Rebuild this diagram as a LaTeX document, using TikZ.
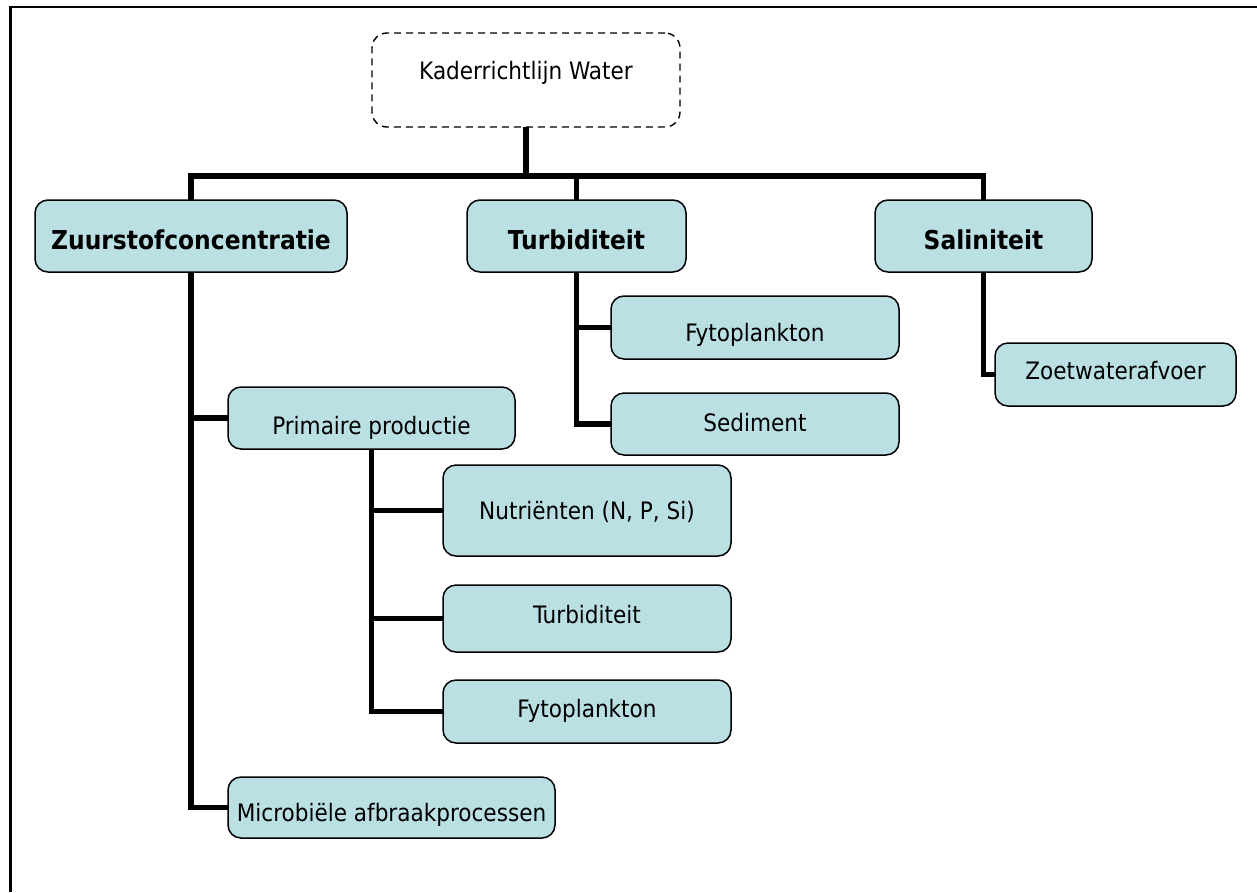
\documentclass[tikz,border=0pt]{standalone}
\usepackage{fontspec}
\setmainfont{DejaVu Sans Condensed}
\begin{document}
\begin{tikzpicture}[x=1pt,y=1pt,
  every node/.style={inner sep=0pt, outer sep=0pt},
  box/.style={draw=black, line width=1.5pt, rounded corners=13pt,
              fill={rgb,255:red,186;green,224;blue,228}},
  topbox/.style={draw=black, line width=1.4pt, rounded corners=15pt,
                 dash pattern=on 7pt off 5pt, fill=white},
  lbl/.style={font=\fontsize{24}{28}\selectfont},
  hlbl/.style={font=\fontsize{26}{30}\selectfont\bfseries},
  link/.style={line width=5.5pt, line join=miter},
  frame/.style={line width=2.4pt}]
\useasboundingbox (0,0) rectangle (1257,-892);

% outer frame (top and left edges)
\draw[frame] (10.5,-892) -- (10.5,-7) -- (1257,-7);

% top node
\node[topbox, minimum width=308, minimum height=94] (kad) at (526,-80) {};
\node[lbl] (kadt) at (526,-72.5) {Kaderrichtlijn Water};

% main themes
\node[box, minimum width=312, minimum height=72] (zuur) at (191,-236) {};
\node[hlbl] (zuurt) at (191,-240) {Zuurstofconcentratie};
\node[box, minimum width=219, minimum height=72] (turb) at (576.5,-236) {};
\node[hlbl] (turbt) at (576.5,-240) {Turbiditeit};
\node[box, minimum width=217, minimum height=72] (sal) at (983.5,-236) {};
\node[hlbl] (salt) at (983.5,-240) {Saliniteit};

% factors under Turbiditeit
\node[box, minimum width=288, minimum height=63] (fyto) at (755,-327.5) {};
\node[lbl] (fytot) at (755,-335) {Fytoplankton};
\node[box, minimum width=288, minimum height=62] (sed) at (755,-424) {};
\node[lbl] (sedt) at (755,-423) {Sediment};

% factor under Saliniteit
\node[box, minimum width=241, minimum height=63] (zoet) at (1115.5,-374.5) {};
\node[lbl] (zoett) at (1115.5,-371) {Zoetwaterafvoer};

% factors under Zuurstofconcentratie
\node[box, minimum width=287, minimum height=62] (prim) at (371.5,-418) {};
\node[lbl] (primt) at (371.5,-428) {Primaire productie};
\node[box, minimum width=327, minimum height=61] (micr) at (391.5,-807.5) {};
\node[lbl] (micrt) at (391.5,-815) {Microbiële afbraakprocessen};

% factors under Primaire productie
\node[box, minimum width=288, minimum height=91] (nutr) at (587,-510.5) {};
\node[lbl] (nutrt) at (587,-512) {Nutriënten (N, P, Si)};
\node[box, minimum width=288, minimum height=67] (turbb) at (587,-618.5) {};
\node[lbl] (turbbt) at (587,-614.5) {Turbiditeit};
\node[box, minimum width=288, minimum height=63] (fytob) at (587,-711.5) {};
\node[lbl] (fytobt) at (587,-710.5) {Fytoplankton};

% connectors
\coordinate (bus) at (526,-176);
\draw[link] (kad.south) -- (bus);
\draw[link] (zuur.north) |- (bus) -| (sal.north);
\draw[link] (turb.north) |- (bus);

\draw[link] (turb.south) |- (fyto.west);
\draw[link] (turb.south) |- (sed.west);

\draw[link] (sal.south) |- (zoet.west);

\draw[link] (zuur.south) |- (prim.west);
\draw[link] (zuur.south) |- (micr.west);

\draw[link] (prim.south) |- (nutr.west);
\draw[link] (prim.south) |- (turbb.west);
\draw[link] (prim.south) |- (fytob.west);
\end{tikzpicture}
\end{document}
